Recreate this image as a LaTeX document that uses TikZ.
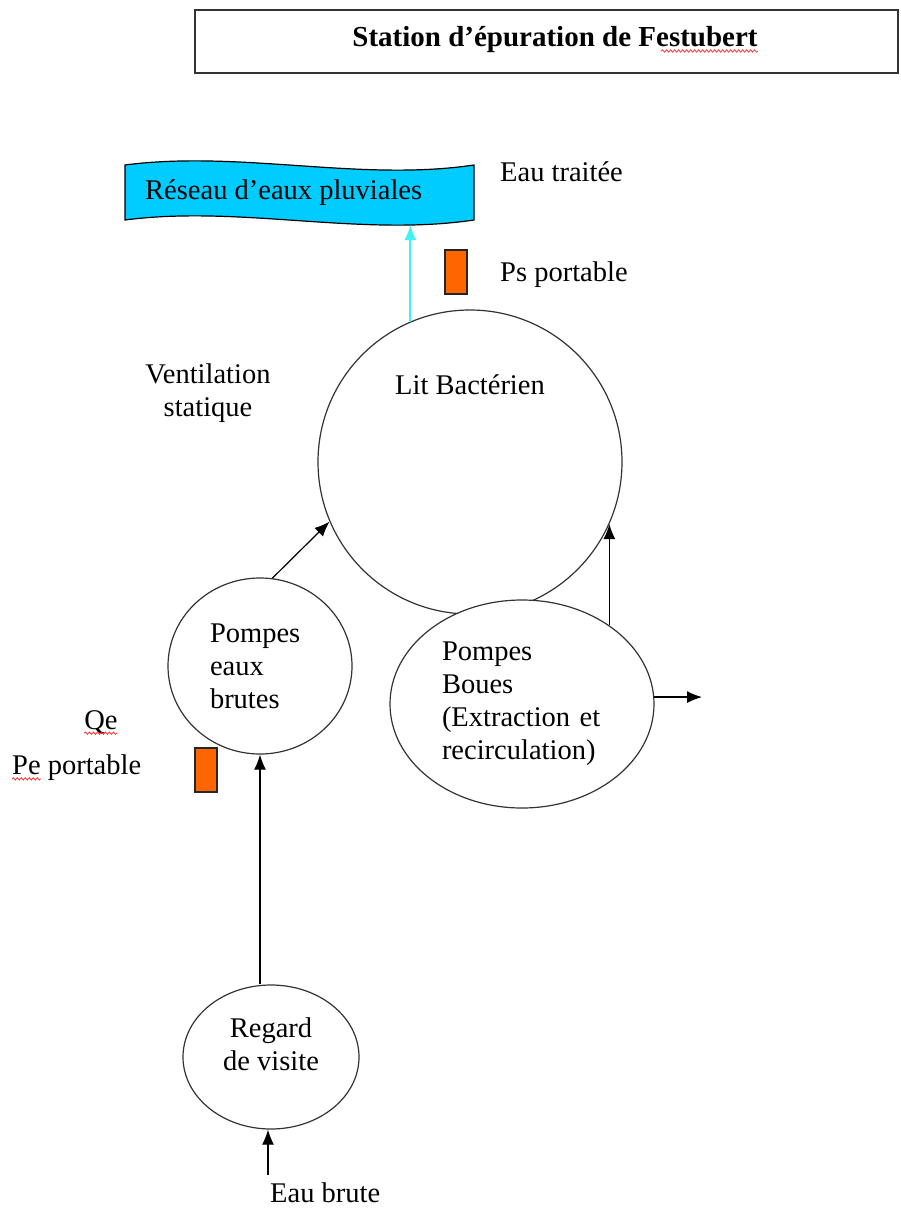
\documentclass[tikz,border=0pt]{standalone}
\usepackage{fontspec}
\setmainfont{Liberation Serif}
\usetikzlibrary{shapes.geometric,arrows.meta,decorations.pathmorphing}
\definecolor{bleureseau}{HTML}{00CCFF}
\definecolor{cyanclair}{HTML}{40F2F2}
\definecolor{orangesonde}{HTML}{FF6600}

\begin{document}
\begin{tikzpicture}[x=1pt,y=-1pt,>={Latex[length=15pt,width=12pt]},
    txt/.style={inner sep=0pt,font=\fontsize{28.5}{33}\selectfont},
    bassin/.style={txt,draw=black!80,line width=1.2pt,fill=white},
    fleche/.style={->,line width=1.2pt},
    sonde/.style={draw=black!85,line width=1.2pt,fill=orangesonde,inner sep=0pt,minimum width=22,minimum height=44},
    souligne/.style={red!85,line width=0.7pt,decorate,decoration={snake,amplitude=1.2pt,segment length=4pt}}]
    \useasboundingbox (0,0) rectangle (900,1209);

    % Titre
    \draw[line width=1.8pt,black!80] (195,10) rectangle (898,73);
    \node[txt,font=\fontsize{29}{33}\selectfont\bfseries] (titre) at (555,40) {Station d’épuration de Festubert};
    \draw[souligne] ([yshift=-4pt]titre.base east) -- ++(-97,0);

    % Reseau d'eaux pluviales
    \draw[line width=1.2pt,fill=bleureseau] (125,165) .. controls (240,150) and (360,182) .. (474,165)
        -- (474,220) .. controls (360,237) and (240,205) .. (125,220) -- cycle;
    \node[txt,anchor=west] (reseau) at (145,193) {Réseau d’eaux pluviales};
    \coordinate (reseaubas) at (411,225);
    \node[txt,anchor=west] (eautraitee) at (500,172) {Eau traitée};

    % Ps portable
    \node[sonde] (ps) at (456,272) {};
    \node[txt,anchor=west] (pstxt) at (500,275) {Ps portable};

    % Lit bacterien
    \node[bassin,circle,minimum size=304] (lit) at (470,462) {};
    \node[txt] (littxt) at (470,385) {Lit Bactérien};
    \node[txt,align=center] (ventil) at (208,393) {Ventilation\\statique};

    % Pompes
    \node[bassin,ellipse,align=left,text width=100,minimum width=184,minimum height=176] (pompeseaux) at (260,666) {Pompes\\eaux\\brutes};
    \node[bassin,ellipse,align=left,text width=160,minimum width=264,minimum height=208] (pompesboues) at (522,704) {Pompes\\Boues\\(Extraction et\\recirculation)};
    \coordinate (sortieboues) at (702,697);

    % Entree
    \node[txt] (qe) at (101,722) {Qe};
    \draw[souligne] ([yshift=-4pt]qe.base west) -- ([yshift=-4pt]qe.base east);
    \node[txt,anchor=west] (pe) at (12,768) {Pe portable};
    \draw[souligne] ([yshift=-4pt]pe.base west) -- ++(29,0);
    \node[sonde] (sondepe) at (206,770) {};

    % Regard de visite
    \node[bassin,ellipse,minimum width=176,minimum height=144] (regard) at (271,1057) {};
    \node[txt,align=center] (regardtxt) at (271,1044) {Regard\\de visite};
    \node[txt,anchor=west] (eaubrute) at (270,1193) {Eau brute};
    \coordinate (entree) at (268,1175);

    % Fleches
    \draw[fleche] (entree) -- (entree |- regard.south);
    \draw[fleche] (pompeseaux.south |- regard.north) -- (pompeseaux.south);
    \draw[fleche] (pompeseaux.82) -- (lit.203);
    \draw[fleche] (pompesboues.42.6) -- (pompesboues.42.6 |- lit.-24.9);
    \draw[fleche] (pompesboues.3) -- (pompesboues.3 -| sortieboues);
    \draw[fleche,cyanclair,line width=1.8pt] (lit.113) -- (lit.113 |- reseaubas);
\end{tikzpicture}
\end{document}
